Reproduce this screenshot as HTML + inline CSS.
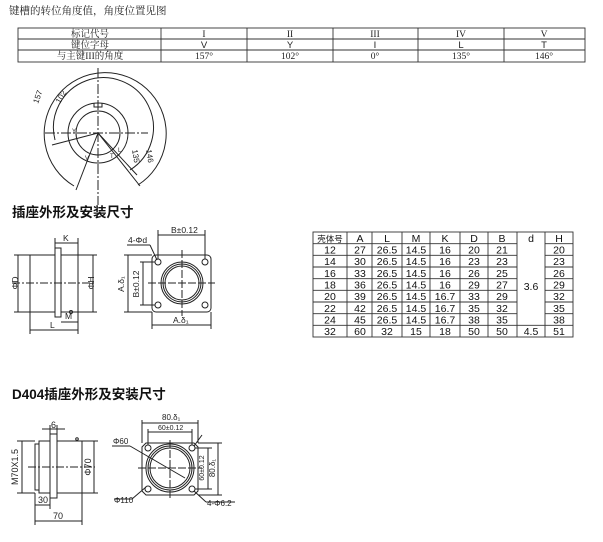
<!DOCTYPE html>
<html><head><meta charset="utf-8"><style>
html,body{margin:0;padding:0;background:#fff;}
svg{display:block;font-family:"Liberation Sans","Noto Sans CJK SC",sans-serif;}
</style></head><body>
<svg width="603" height="542" viewBox="0 0 603 542" xmlns="http://www.w3.org/2000/svg">
<rect width="603" height="542" fill="#fff"/>
<g font-family="'Noto Serif CJK SC','Liberation Serif',serif" font-size="10.5" fill="#222">
<text x="9" y="14">键槽的转位角度值，角度位置见图</text>
</g>
<g stroke="#333" stroke-width="0.9" fill="none">
<rect x="18" y="28" width="567" height="34"/>
<line x1="18" y1="39" x2="585" y2="39"/><line x1="18" y1="50" x2="585" y2="50"/>
<line x1="161" y1="28" x2="161" y2="62"/><line x1="247" y1="28" x2="247" y2="62"/>
<line x1="333" y1="28" x2="333" y2="62"/><line x1="418" y1="28" x2="418" y2="62"/>
<line x1="504" y1="28" x2="504" y2="62"/>
</g>
<g font-size="9.5" fill="#222" text-anchor="middle" font-family="'Liberation Serif','Noto Serif CJK SC',serif">
<text x="90" y="37">标记代号</text><text x="204" y="37">I</text><text x="290" y="37">II</text><text x="375" y="37">III</text><text x="461" y="37">IV</text><text x="544" y="37">V</text>
<text x="90" y="48">键位字母</text><text x="204" y="48" font-family="'Liberation Sans',sans-serif">V</text><text x="290" y="48" font-family="'Liberation Sans',sans-serif">Y</text><text x="375" y="48" font-family="'Liberation Sans',sans-serif">I</text><text x="461" y="48" font-family="'Liberation Sans',sans-serif">L</text><text x="544" y="48" font-family="'Liberation Sans',sans-serif">T</text>
<text x="90" y="59">与主键III的角度</text><text x="204" y="59">157°</text><text x="290" y="59">102°</text><text x="375" y="59">0°</text><text x="461" y="59">135°</text><text x="544" y="59">146°</text>
</g>
<g stroke="#222" stroke-width="1" fill="none">
<path d="M 74 186 A 61 61 0 1 1 138 185"/>
<path d="M 55 140 A 50 50 0 1 1 130 170"/>
<circle cx="98" cy="133" r="30"/>
<circle cx="98" cy="133" r="22"/>
<path d="M94 103 v4 h8 v-4"/>
<line x1="98" y1="68" x2="98" y2="205" stroke-dasharray="10,2,2,2"/>
<line x1="45" y1="133" x2="148" y2="133" stroke-dasharray="10,2,2,2"/>
<line x1="98" y1="133" x2="52" y2="145"/>
<line x1="98" y1="133" x2="76" y2="190"/>
<line x1="98" y1="133" x2="137" y2="175"/>
<line x1="98" y1="133" x2="140" y2="186"/>
</g>
<g font-size="8" fill="#222">
<text x="38" y="104" transform="rotate(-70 38 104)">157</text>
<text x="60" y="104" transform="rotate(-60 60 104)">102</text>
<text x="132" y="150" transform="rotate(80 132 150)">135</text>
<text x="146" y="150" transform="rotate(80 146 150)">146</text>
<text x="72" y="133" font-size="6">Y</text><text x="85" y="160" font-size="6">V</text><text x="110" y="158" font-size="6">T</text><text x="118" y="152" font-size="6">L</text>
</g>
<text x="12" y="217" font-size="13.5" font-weight="bold" fill="#111" font-family="'Noto Sans CJK SC',sans-serif">插座外形及安装尺寸</text>
<g stroke="#222" stroke-width="1" fill="none">
<rect x="30" y="255" width="25" height="57"/>
<rect x="55" y="248" width="6" height="69"/>
<rect x="61" y="255" width="17" height="57"/>
<line x1="12" y1="283" x2="95" y2="283" stroke-dasharray="8,2,2,2"/>
<line x1="18" y1="255" x2="18" y2="312"/><line x1="14" y1="255" x2="30" y2="255"/><line x1="14" y1="312" x2="30" y2="312"/>
<line x1="93" y1="255" x2="93" y2="312"/><line x1="78" y1="255" x2="97" y2="255"/><line x1="78" y1="312" x2="97" y2="312"/>
<line x1="55" y1="243" x2="78" y2="243"/><line x1="55" y1="238" x2="55" y2="248"/><line x1="78" y1="238" x2="78" y2="255"/>
<line x1="30" y1="330" x2="78" y2="330"/><line x1="30" y1="312" x2="30" y2="334"/><line x1="78" y1="312" x2="78" y2="334"/>
<line x1="61" y1="322" x2="78" y2="322"/>
<circle cx="71" cy="312" r="1.5"/>
</g>
<g font-size="8.5" fill="#222">
<text x="63" y="241">K</text><text x="50" y="328">L</text><text x="65" y="319">M</text>
<text x="14" y="287" transform="rotate(-90 14 283)" text-anchor="middle">ΦD</text>
<text x="90" y="287" transform="rotate(-90 90 283)" text-anchor="middle">ΦH</text>
</g>
<g stroke="#222" stroke-width="1" fill="none">
<rect x="152" y="255" width="59" height="57" rx="4"/>
<circle cx="182" cy="283" r="21"/><circle cx="182" cy="283" r="19"/><circle cx="182" cy="283" r="17"/>
<circle cx="158" cy="262" r="3"/><circle cx="205" cy="262" r="3"/><circle cx="158" cy="305" r="3"/><circle cx="205" cy="305" r="3"/>
<line x1="182" y1="250" x2="182" y2="316" stroke-dasharray="8,2"/><line x1="148" y1="283" x2="215" y2="283" stroke-dasharray="8,2"/>
<line x1="158" y1="235" x2="205" y2="235"/><line x1="158" y1="230" x2="158" y2="259"/><line x1="205" y1="230" x2="205" y2="259"/>
<line x1="128" y1="255" x2="128" y2="312"/><line x1="124" y1="255" x2="152" y2="255"/><line x1="124" y1="312" x2="152" y2="312"/>
<line x1="143" y1="262" x2="143" y2="305"/><line x1="140" y1="262" x2="155" y2="262"/><line x1="140" y1="305" x2="155" y2="305"/>
<line x1="152" y1="325" x2="211" y2="325"/><line x1="152" y1="312" x2="152" y2="329"/><line x1="211" y1="312" x2="211" y2="329"/>
<line x1="127" y1="245" x2="150" y2="245"/><line x1="150" y1="245" x2="157" y2="260"/>
</g>
<g font-size="8.5" fill="#222">
<text x="171" y="233">B±0.12</text><text x="128" y="243">4-Φd</text><text x="173" y="323">A.δ₁</text>
<text x="124" y="284" transform="rotate(-90 124 284)" text-anchor="middle">A.δ₁</text>
<text x="139" y="284" transform="rotate(-90 139 284)" text-anchor="middle">B±0.12</text>
</g>
<g stroke="#333" stroke-width="0.9" fill="none">
<rect x="313" y="232" width="260" height="105"/>
<line x1="313" y1="243.7" x2="517" y2="243.7"/><line x1="545" y1="243.7" x2="573" y2="243.7"/>
<line x1="313" y1="255.3" x2="517" y2="255.3"/><line x1="545" y1="255.3" x2="573" y2="255.3"/>
<line x1="313" y1="267" x2="517" y2="267"/><line x1="545" y1="267" x2="573" y2="267"/>
<line x1="313" y1="278.7" x2="517" y2="278.7"/><line x1="545" y1="278.7" x2="573" y2="278.7"/>
<line x1="313" y1="290.3" x2="517" y2="290.3"/><line x1="545" y1="290.3" x2="573" y2="290.3"/>
<line x1="313" y1="302" x2="517" y2="302"/><line x1="545" y1="302" x2="573" y2="302"/>
<line x1="313" y1="313.7" x2="517" y2="313.7"/><line x1="545" y1="313.7" x2="573" y2="313.7"/>
<line x1="313" y1="325.3" x2="573" y2="325.3"/>
<line x1="347" y1="232" x2="347" y2="337"/><line x1="372" y1="232" x2="372" y2="337"/><line x1="402" y1="232" x2="402" y2="337"/><line x1="430" y1="232" x2="430" y2="337"/><line x1="460" y1="232" x2="460" y2="337"/><line x1="488" y1="232" x2="488" y2="337"/><line x1="517" y1="232" x2="517" y2="337"/><line x1="545" y1="232" x2="545" y2="337"/>
</g>
<g font-size="10.5" fill="#111" text-anchor="middle">
<text x="330" y="242" font-size="8.5" font-family="'Noto Sans CJK SC',sans-serif">壳体号</text><text x="360" y="242">A</text><text x="387" y="242">L</text><text x="416" y="242">M</text><text x="445" y="242">K</text><text x="474" y="242">D</text><text x="502" y="242">B</text><text x="531" y="242">d</text><text x="559" y="242">H</text>
<text x="330" y="253.5">12</text><text x="360" y="253.5">27</text><text x="387" y="253.5">26.5</text><text x="416" y="253.5">14.5</text><text x="445" y="253.5">16</text><text x="474" y="253.5">20</text><text x="502" y="253.5">21</text><text x="559" y="253.5">20</text>
<text x="330" y="265">14</text><text x="360" y="265">30</text><text x="387" y="265">26.5</text><text x="416" y="265">14.5</text><text x="445" y="265">16</text><text x="474" y="265">23</text><text x="502" y="265">23</text><text x="559" y="265">23</text>
<text x="330" y="276.8">16</text><text x="360" y="276.8">33</text><text x="387" y="276.8">26.5</text><text x="416" y="276.8">14.5</text><text x="445" y="276.8">16</text><text x="474" y="276.8">26</text><text x="502" y="276.8">25</text><text x="559" y="276.8">26</text>
<text x="330" y="288.5">18</text><text x="360" y="288.5">36</text><text x="387" y="288.5">26.5</text><text x="416" y="288.5">14.5</text><text x="445" y="288.5">16</text><text x="474" y="288.5">29</text><text x="502" y="288.5">27</text><text x="559" y="288.5">29</text>
<text x="330" y="300">20</text><text x="360" y="300">39</text><text x="387" y="300">26.5</text><text x="416" y="300">14.5</text><text x="445" y="300">16.7</text><text x="474" y="300">33</text><text x="502" y="300">29</text><text x="559" y="300">32</text>
<text x="330" y="311.8">22</text><text x="360" y="311.8">42</text><text x="387" y="311.8">26.5</text><text x="416" y="311.8">14.5</text><text x="445" y="311.8">16.7</text><text x="474" y="311.8">35</text><text x="502" y="311.8">32</text><text x="559" y="311.8">35</text>
<text x="330" y="323.5">24</text><text x="360" y="323.5">45</text><text x="387" y="323.5">26.5</text><text x="416" y="323.5">14.5</text><text x="445" y="323.5">16.7</text><text x="474" y="323.5">38</text><text x="502" y="323.5">35</text><text x="559" y="323.5">38</text>
<text x="330" y="335">32</text><text x="360" y="335">60</text><text x="387" y="335">32</text><text x="416" y="335">15</text><text x="445" y="335">18</text><text x="474" y="335">50</text><text x="502" y="335">50</text><text x="531" y="335">4.5</text><text x="559" y="335">51</text>
<text x="531" y="290">3.6</text>
</g>
<text x="12" y="399" font-size="13.5" font-weight="bold" fill="#111" font-family="'Liberation Sans','Noto Sans CJK SC',sans-serif">D404插座外形及安装尺寸</text>
<g stroke="#222" stroke-width="1" fill="none">
<path d="M39 441 h11 v52 h-11 z"/><path d="M35 444 h4 v46 h-4 z"/>
<rect x="50" y="434" width="7" height="64"/>
<rect x="57" y="441" width="25" height="52"/>
<line x1="28" y1="467" x2="95" y2="467" stroke-dasharray="8,2,2,2"/>
<line x1="22" y1="441" x2="22" y2="493"/><line x1="17" y1="441" x2="35" y2="441"/><line x1="17" y1="493" x2="35" y2="493"/>
<line x1="94" y1="441" x2="94" y2="493"/><line x1="82" y1="441" x2="98" y2="441"/><line x1="82" y1="493" x2="98" y2="493"/>
<line x1="42" y1="429" x2="65" y2="429"/><line x1="50" y1="425" x2="50" y2="434"/><line x1="57" y1="425" x2="57" y2="434"/>
<line x1="35" y1="505" x2="50" y2="505"/><line x1="35" y1="493" x2="35" y2="525"/><line x1="50" y1="498" x2="50" y2="509"/>
<line x1="35" y1="521" x2="82" y2="521"/><line x1="82" y1="493" x2="82" y2="525"/>
<circle cx="77" cy="439" r="1.3"/>
</g>
<g font-size="9" fill="#222">
<text x="51" y="428">6</text><text x="38" y="503">30</text><text x="53" y="519">70</text>
<text x="18" y="467" transform="rotate(-90 18 467)" text-anchor="middle">M70X1.5</text>
<text x="91" y="467" transform="rotate(-90 91 467)" text-anchor="middle">Φ70</text>
</g>
<g stroke="#222" stroke-width="1" fill="none">
<path d="M146 443 h48 l4 4 v44 l-4 4 h-48 l-4 -4 v-44 z"/>
<circle cx="170" cy="468" r="24"/><circle cx="170" cy="468" r="22"/><circle cx="170" cy="468" r="20"/>
<circle cx="148" cy="448" r="3"/><circle cx="192" cy="448" r="3"/><circle cx="148" cy="489" r="3"/><circle cx="192" cy="489" r="3"/>
<line x1="170" y1="440" x2="170" y2="500" stroke-dasharray="8,2"/><line x1="138" y1="468" x2="202" y2="468" stroke-dasharray="8,2"/>
<line x1="142" y1="423" x2="198" y2="423"/><line x1="142" y1="420" x2="142" y2="443"/><line x1="198" y1="420" x2="198" y2="443"/>
<line x1="148" y1="432" x2="192" y2="432"/><line x1="148" y1="429" x2="148" y2="445"/><line x1="192" y1="429" x2="192" y2="445"/>
<line x1="208" y1="448" x2="208" y2="489"/><line x1="195" y1="448" x2="212" y2="448"/><line x1="195" y1="489" x2="212" y2="489"/>
<line x1="218" y1="443" x2="218" y2="495"/><line x1="198" y1="443" x2="222" y2="443"/><line x1="198" y1="495" x2="222" y2="495"/>
<line x1="112" y1="446" x2="130" y2="446"/><line x1="130" y1="446" x2="185" y2="478"/>
<line x1="114" y1="499" x2="132" y2="499"/><line x1="132" y1="499" x2="146" y2="487"/>
<line x1="194" y1="491" x2="206" y2="502"/><line x1="206" y1="502" x2="235" y2="502"/>
<line x1="194" y1="446" x2="202" y2="435"/>
</g>
<g font-size="8" fill="#222">
<text x="162" y="420">80.δ₁</text><text x="158" y="430" font-size="7">60±0.12</text>
<text x="113" y="444">Φ60</text><text x="114" y="503">Φ110</text><text x="207" y="506">4-Φ6.2</text>
<text x="204" y="468" font-size="7" transform="rotate(-90 204 468)" text-anchor="middle">60±0.12</text>
<text x="215" y="468" transform="rotate(-90 215 468)" text-anchor="middle">80.δ₁</text>
</g>
</svg>
</body></html>
